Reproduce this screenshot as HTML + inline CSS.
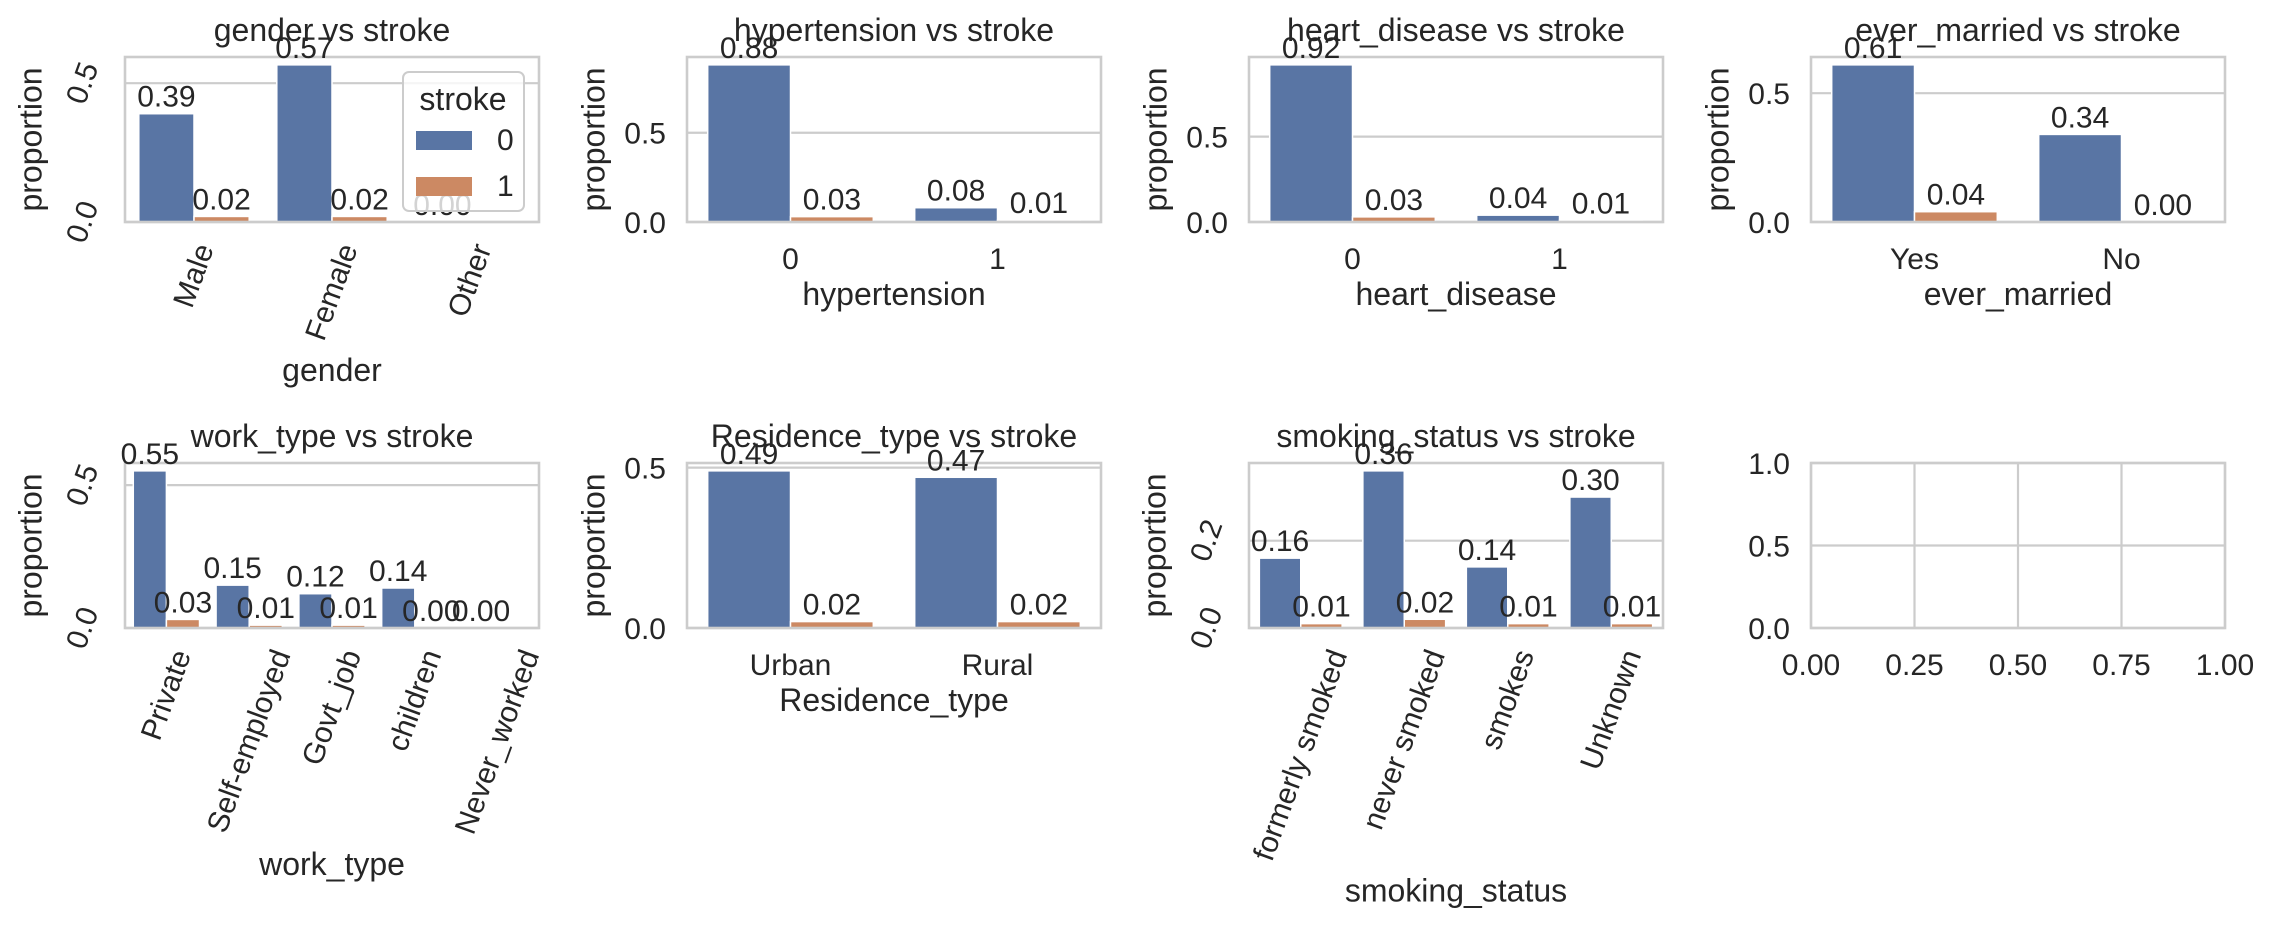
<!DOCTYPE html>
<html><head><meta charset="utf-8">
<style>
html,body{margin:0;padding:0;background:#fff;}
svg{display:block;font-family:"Liberation Sans",Arial,sans-serif;}
</style></head>
<body>
<svg id="fig" width="2272" height="926" viewBox="0 0 2272 926" xmlns="http://www.w3.org/2000/svg"></svg>
<script>
// ---- data ----
const genderCats = ["Male","Female","Other"];
const genderS0 = [0.39,0.566,0.00];
const genderS1 = [0.02,0.02,null];
const hyperCats = ["0","1"];
const hyperS0 = [0.88,0.08];
const hyperS1 = [0.03,0.01];
const heartCats = ["0","1"];
const heartS0 = [0.92,0.04];
const heartS1 = [0.03,0.01];
const marriedCats = ["Yes","No"];
const marriedS0 = [0.61,0.34];
const marriedS1 = [0.04,0.00];
const workCats = ["Private","Self-employed","Govt_job","children","Never_worked"];
const workS0 = [0.55,0.15,0.12,0.14,0.00];
const workS1 = [0.03,0.01,0.01,0.00,null];
const resCats = ["Urban","Rural"];
const resS0 = [0.49,0.47];
const resS1 = [0.02,0.02];
const smokeCats = ["formerly smoked","never smoked","smokes","Unknown"];
const smokeS0 = [0.16,0.36,0.14,0.30];
const smokeS1 = [0.01,0.02,0.01,0.01];
const ticks05 = [0,0.5];
const ticks02 = [0,0.2];
const emptyXTicks = [0,0.25,0.5,0.75,1.0];
const emptyYTicks = [0,0.5,1.0];
const legendLabels = ["0","1"];

const NS="http://www.w3.org/2000/svg";
const svg=document.getElementById('fig');
const C0="#5975a4", C1="#cc8963", GRID="#cccccc", TXT="#262626";
const FS=30, TFS=32;
function mk(tag,attrs,parent){const e=document.createElementNS(NS,tag);for(const k in attrs)e.setAttribute(k,attrs[k]);(parent||svg).appendChild(e);return e;}

const cols=[125,687,1249,1811], W=414;
const rows=[57,463], H=165;

function panel(opt){
  const g=mk('g',{});
  
  
  const L=opt.x, T=opt.y, R=L+W, B=T+H;
  const ymax=opt.ymax;
  const ys=v=>B-(v/ymax)*H;
  const n=opt.cats?opt.cats.length:0;
  const xs=v=>L+(v+0.5)/n*W;
  opt.yticks.forEach(t=>{
    const l=mk('line',{x1:L,x2:R,y1:ys(t),y2:ys(t),stroke:GRID,'stroke-width':2.2},g);
    
    
  });
  if(opt.empty){
    opt.xticksNum.forEach(t=>{
      const x=L+t*W;
      const l=mk('line',{x1:x,x2:x,y1:T,y2:B,stroke:GRID,'stroke-width':2.2},g);
      
      
    });
  }
  const labels=[];
  if(!opt.empty){
    [opt.s0,opt.s1].forEach((ser,si)=>{
      ser.forEach((v,i)=>{
        if(v===null) return;
        const x0=xs(i)+(si===0?-0.4:0)*(W/n);
        const bw=0.4*W/n;
        const r=mk('rect',{x:x0,y:ys(v),width:bw,height:B-ys(v),fill:si?C1:C0,stroke:'#ffffff','stroke-width':1.5},g);
        
        
        labels.push([x0+bw/2,ys(v),v]);
      });
    });
  }
  const sp=mk('rect',{x:L,y:T,width:W,height:H,fill:'none',stroke:GRID,'stroke-width':2.6},g);
  
  
  labels.forEach(([x,y,v])=>{
    const t=mk('text',{x:x,y:y-7,'font-size':FS,fill:TXT,'text-anchor':'middle'},g);
    t.textContent=v.toFixed(2);
    
    
  });
  let maxYW=0;
  opt.yticks.forEach(t=>{
    const y=ys(t);
    const tx=mk('text',{'font-size':FS,fill:TXT},g);
    tx.textContent=t.toFixed(1);
    
    
    if(opt.rot){
      tx.setAttribute('text-anchor','middle');
      tx.setAttribute('dominant-baseline','central');
      const w=tx.getComputedTextLength(), h=FS*1.0;
      const bw=w*Math.cos(70*Math.PI/180)+h*Math.sin(70*Math.PI/180);
      const cx=L-21-bw/2;
      tx.setAttribute('x',cx);tx.setAttribute('y',y);
      tx.setAttribute('transform','rotate(-70 '+cx+' '+y+')');
      maxYW=Math.max(maxYW,bw);
    } else {
      tx.setAttribute('text-anchor','end');
      tx.setAttribute('x',L-21);tx.setAttribute('y',y+FS*0.36);
      maxYW=Math.max(maxYW,tx.getComputedTextLength());
    }
  });
  let maxXH=FS*0.9;
  const xt=opt.empty?opt.xticksNum.map(t=>[L+t*W,t.toFixed(2)]):opt.cats.map((c,i)=>[xs(i),c]);
  xt.forEach(([x,s])=>{
    const tx=mk('text',{'font-size':FS,fill:TXT,'text-anchor':'middle'},g);
    tx.textContent=s;
    
    
    if(opt.rot){
      tx.setAttribute('dominant-baseline','central');
      const w=tx.getComputedTextLength(), h=FS*1.0;
      const bh=w*Math.sin(70*Math.PI/180)+h*Math.cos(70*Math.PI/180);
      const cy=B+18+bh/2;
      tx.setAttribute('x',x);tx.setAttribute('y',cy);
      tx.setAttribute('transform','rotate(-70 '+x+' '+cy+')');
      maxXH=Math.max(maxXH,bh);
    } else {
      tx.setAttribute('x',x);tx.setAttribute('y',B+47);
    }
  });
  const ti=mk('text',{x:L+W/2,y:T-16,'font-size':TFS,fill:TXT,'text-anchor':'middle'},g);
  ti.textContent=opt.title;
  
  
  if(opt.empty) return;
  const xl=mk('text',{x:L+W/2,y:(opt.rot?B+18+maxXH+12+TFS*0.78:B+83),'font-size':TFS,fill:TXT,'text-anchor':'middle'},g);
  xl.textContent=opt.xlabel;
  
  
  const yx=L-21-maxYW-12-TFS*0.25, yy=T+H/2;
  const yl=mk('text',{x:yx,y:yy,'font-size':TFS,fill:TXT,'text-anchor':'middle',transform:'rotate(-90 '+yx+' '+yy+')'},g);
  yl.textContent='proportion';
  
  
}

const mx=(a,b)=>Math.max(...a,...b.filter(v=>v!==null))*1.05;
panel({name:'gender-panel',x:cols[0],y:rows[0],cats:genderCats,s0:genderS0,s1:genderS1,ymax:mx(genderS0,genderS1),yticks:ticks05,rot:true,title:'gender vs stroke',xlabel:'gender'});
panel({name:'hypertension-panel',x:cols[1],y:rows[0],cats:hyperCats,s0:hyperS0,s1:hyperS1,ymax:mx(hyperS0,hyperS1),yticks:ticks05,title:'hypertension vs stroke',xlabel:'hypertension'});
panel({name:'heart-disease-panel',x:cols[2],y:rows[0],cats:heartCats,s0:heartS0,s1:heartS1,ymax:mx(heartS0,heartS1),yticks:ticks05,title:'heart_disease vs stroke',xlabel:'heart_disease'});
panel({name:'ever-married-panel',x:cols[3],y:rows[0],cats:marriedCats,s0:marriedS0,s1:marriedS1,ymax:mx(marriedS0,marriedS1),yticks:ticks05,title:'ever_married vs stroke',xlabel:'ever_married'});
panel({name:'work-type-panel',x:cols[0],y:rows[1],cats:workCats,s0:workS0,s1:workS1,ymax:mx(workS0,workS1),yticks:ticks05,rot:true,title:'work_type vs stroke',xlabel:'work_type'});
panel({name:'residence-type-panel',x:cols[1],y:rows[1],cats:resCats,s0:resS0,s1:resS1,ymax:mx(resS0,resS1),yticks:ticks05,title:'Residence_type vs stroke',xlabel:'Residence_type'});
panel({name:'smoking-status-panel',x:cols[2],y:rows[1],cats:smokeCats,s0:smokeS0,s1:smokeS1,ymax:mx(smokeS0,smokeS1),yticks:ticks02,rot:true,title:'smoking_status vs stroke',xlabel:'smoking_status'});
panel({name:'empty-panel',x:cols[3],y:rows[1],empty:true,ymax:1,yticks:emptyYTicks,xticksNum:emptyXTicks,title:''});

const lg=mk('g',{});


const lb=mk('rect',{x:403,y:72,width:121,height:139,rx:6,fill:'#ffffff','fill-opacity':0.8,stroke:GRID,'stroke-width':2},lg);


const lt=mk('text',{x:463,y:110,'font-size':TFS,fill:TXT,'text-anchor':'middle'},lg);
lt.textContent='stroke';


legendLabels.forEach((s,i)=>{
  const y=131+i*46;
  const p=mk('rect',{x:416,y:y,width:56,height:19,fill:i?C1:C0},lg);
  
  
  const t=mk('text',{x:497,y:y+19,'font-size':FS,fill:TXT},lg);
  t.textContent=s;
  
  
});
</script>
</body></html>
